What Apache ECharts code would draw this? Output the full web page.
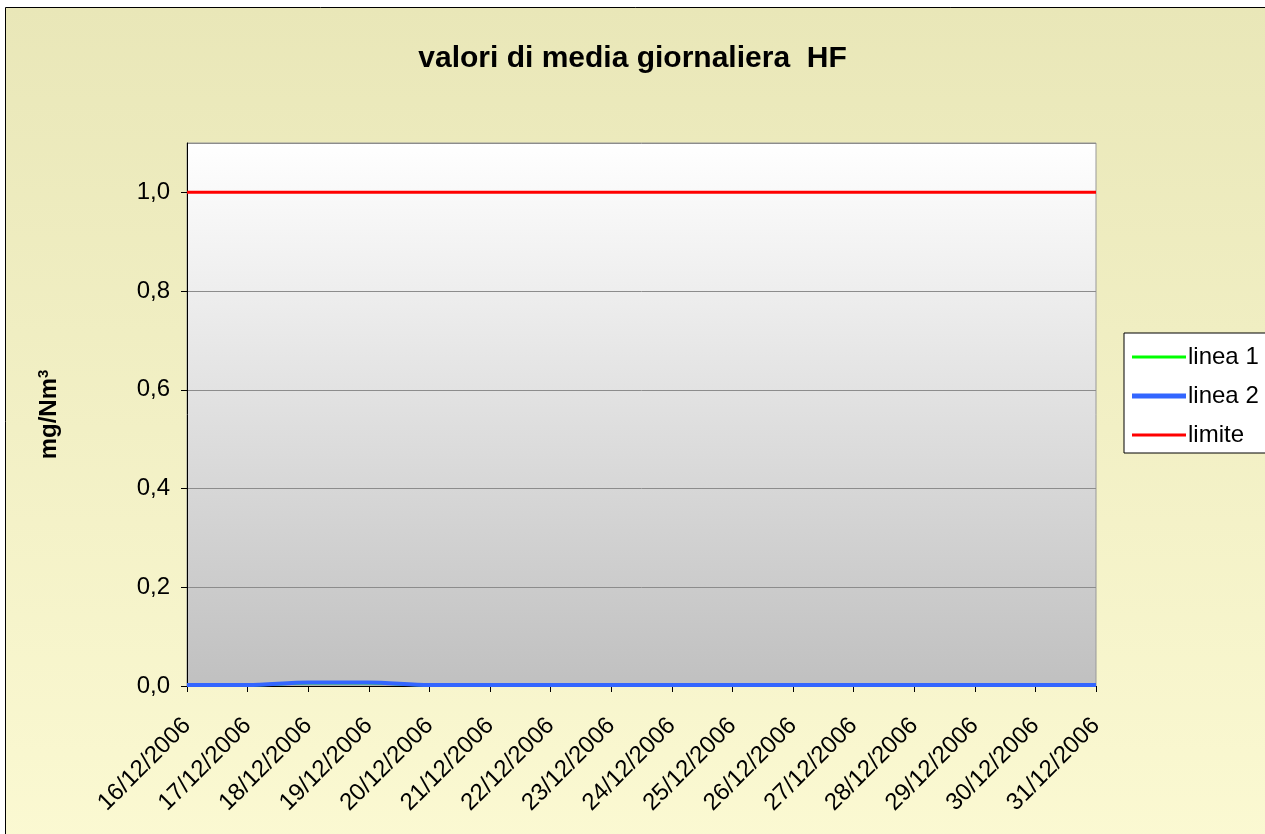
<!DOCTYPE html>
<html>
<head>
<meta charset="utf-8">
<script src="https://cdn.jsdelivr.net/npm/echarts@6/dist/echarts.min.js"></script>
<style>
  html, body { margin: 0; padding: 0; background: #fff; }
  #chart { width: 1265px; height: 834px; }
</style>
</head>
<body>
<div id="chart"></div>
<script>
  'use strict';

  // dates on the x axis
  var days = ['16/12/2006', '17/12/2006', '18/12/2006', '19/12/2006', '20/12/2006',
    '21/12/2006', '22/12/2006', '23/12/2006', '24/12/2006', '25/12/2006',
    '26/12/2006', '27/12/2006', '28/12/2006', '29/12/2006', '30/12/2006', '31/12/2006'];

  // series values, mg/Nm3 (linea 1 lies under linea 2)
  var linea1 = [0.002, 0.002, 0.006, 0.006, 0.002, 0.002, 0.002, 0.002,
    0.002, 0.002, 0.002, 0.002, 0.002, 0.002, 0.002, 0.002];
  var linea2 = [0.002, 0.002, 0.007, 0.007, 0.002, 0.002, 0.002, 0.002,
    0.002, 0.002, 0.002, 0.002, 0.002, 0.002, 0.002, 0.002];
  var limite = [1, 1, 1, 1, 1, 1, 1, 1, 1, 1, 1, 1, 1, 1, 1, 1];

  var myChart = echarts.init(document.getElementById('chart'));

  var thinIcon = 'path://M0,0 L54,0 L54,3 L0,3 Z';
  var thickIcon = 'path://M0,0 L54,0 L54,5 L0,5 Z';

  var options = {
    animation: false,
    textStyle: { fontFamily: 'Liberation Sans, Arial, sans-serif' },
    graphic: [{
      type: 'rect',
      z: -100,
      silent: true,
      shape: { x: 5.5, y: 7.5, width: 1270, height: 840 },
      style: {
        fill: new echarts.graphic.LinearGradient(0, 0, 0, 1, [
          { offset: 0, color: '#E9E7B8' },
          { offset: 1, color: '#FBF9D2' }
        ]),
        stroke: '#000',
        lineWidth: 1
      }
    }],
    title: {
      text: 'valori di media giornaliera  HF',
      left: 'center',
      top: 39,
      textStyle: { fontSize: 30, fontWeight: 'bold', color: '#000' }
    },
    legend: {
      orient: 'vertical',
      left: 1124,
      top: 333,
      padding: [12, 40, 6, 8],
      itemGap: 15,
      itemWidth: 54,
      itemHeight: 5,
      backgroundColor: '#fff',
      borderColor: '#000',
      borderWidth: 1,
      textStyle: { fontSize: 24, color: '#000', padding: [0, 0, 0, -3] },
      data: [
        { name: 'linea 1', icon: thinIcon },
        { name: 'linea 2', icon: thickIcon },
        { name: 'limite', icon: thinIcon }
      ]
    },
    grid: {
      left: 187,
      top: 143,
      right: 169,
      bottom: 148,
      show: true,
      borderColor: '#999',
      borderWidth: 1,
      backgroundColor: new echarts.graphic.LinearGradient(0, 0, 0, 1, [
        { offset: 0, color: '#FFFFFF' },
        { offset: 1, color: '#C0C0C0' }
      ])
    },
    xAxis: {
      type: 'category',
      boundaryGap: false,
      data: days,
      axisLine: { lineStyle: { color: '#000', width: 1 } },
      axisTick: { alignWithLabel: true, length: 6, interval: 0, lineStyle: { color: '#000' } },
      axisLabel: { rotate: 45, interval: 0, fontSize: 24, color: '#000', margin: 36 }
    },
    yAxis: {
      type: 'value',
      min: 0,
      max: 1.1,
      interval: 0.2,
      name: 'mg/Nm{sup|3}',
      nameLocation: 'middle',
      nameGap: 124,
      nameTextStyle: {
        fontSize: 24,
        fontWeight: 'bold',
        color: '#000',
        rich: {
          sup: { fontSize: 15, fontWeight: 'bold', color: '#000', padding: [0, 0, 12, 0] }
        }
      },
      axisLine: { show: true, lineStyle: { color: '#000', width: 1 } },
      axisTick: { show: true, length: 6, lineStyle: { color: '#000' } },
      axisLabel: {
        fontSize: 24,
        color: '#000',
        margin: 17,
        showMaxLabel: false,
        formatter: function (v) {
          if (v > 1.05) return '';
          return v.toFixed(1).replace('.', ',');
        }
      },
      splitLine: { lineStyle: { color: '#8C8C8C', width: 1 } }
    },
    series: [{
      name: 'linea 1',
      type: 'line',
      data: linea1,
      symbol: 'none',
      smooth: 0.3,
      color: '#00FF00',
      lineStyle: { width: 3, color: '#00FF00' }
    }, {
      name: 'linea 2',
      type: 'line',
      data: linea2,
      symbol: 'none',
      smooth: 0.3,
      color: '#3366FF',
      lineStyle: { width: 4, color: '#3366FF' }
    }, {
      name: 'limite',
      type: 'line',
      data: limite,
      symbol: 'none',
      color: '#FF0000',
      lineStyle: { width: 3, color: '#FF0000' }
    }]
  };

  myChart.setOption(options);
</script>
</body>
</html>
